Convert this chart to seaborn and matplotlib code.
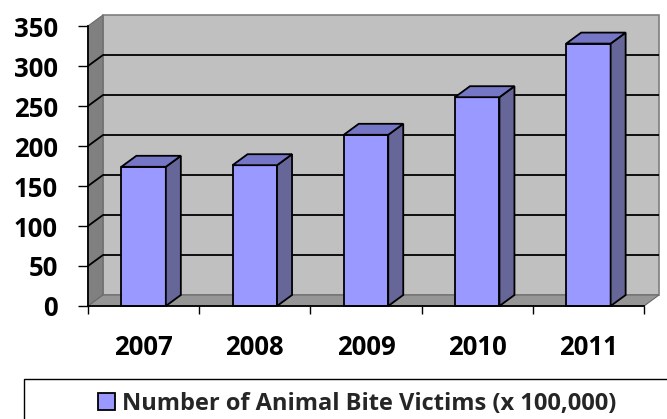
import matplotlib
matplotlib.use("Agg")
import matplotlib.pyplot as plt
from matplotlib.patches import Polygon, Rectangle, Patch
import seaborn as sns

# Data
years = ["2007", "2008", "2009", "2010", "2011"]
victims = [174, 176, 214, 261, 328]
y_ticks = [0, 50, 100, 150, 200, 250, 300, 350]
legend_label = "Number of Animal Bite Victims (x 100,000)"

# Colours of the pseudo-3D box and columns
FRONT = "#9999FF"
SIDE = "#666699"
TOP = "#7676C6"
BACK_WALL = "#C0C0C0"
SIDE_WALL = "#808080"
FLOOR = "#969696"

sns.set_theme(style="white")
plt.rcParams["font.family"] = ["Open Sans", "DejaVu Sans"]
plt.rcParams["font.weight"] = "bold"

W, H = 667, 419
fig = plt.figure(figsize=(W / 100, H / 100), dpi=100)
ax = fig.add_axes([88 / W, 1 - 306 / H, (644 - 88) / W, (306 - 26) / H])

XMIN, XMAX = -0.5, 4.5
YMIN, YMAX = 0, 350
ax.set_xlim(XMIN, XMAX)
ax.set_ylim(YMIN, YMAX)

# depth of the box, expressed in data units (about 15 px right, 11 px up)
DX = 15 / ((644 - 88) / 5)
DY = 11 / ((306 - 26) / 350)

# back wall, side wall and floor
ax.add_patch(Rectangle((XMIN + DX, YMIN + DY), XMAX - XMIN, YMAX - YMIN,
                       facecolor=BACK_WALL, edgecolor="#7f7f7f", lw=1.2,
                       zorder=0.1, clip_on=False))
ax.add_patch(Polygon([(XMIN, YMIN), (XMIN, YMAX), (XMIN + DX, YMAX + DY),
                      (XMIN + DX, YMIN + DY)], closed=True,
                     facecolor=SIDE_WALL, edgecolor="#6a6a6a", lw=0.8,
                     zorder=0.2, clip_on=False))
ax.add_patch(Polygon([(XMIN, YMIN), (XMAX, YMIN), (XMAX + DX, YMIN + DY),
                      (XMIN + DX, YMIN + DY)], closed=True,
                     facecolor=FLOOR, edgecolor="#6a6a6a", lw=0.8,
                     zorder=0.2, clip_on=False))

# gridlines on the back wall and the side wall
for t in y_ticks[1:-1]:
    ax.plot([XMIN + DX, XMAX + DX], [t + DY, t + DY], color="black", lw=1.3,
            zorder=0.3, clip_on=False, solid_capstyle="butt")
    ax.plot([XMIN, XMIN + DX], [t, t + DY], color="black", lw=1.3,
            zorder=0.3, clip_on=False)

# front faces of the columns
BAR_W = 0.4
sns.barplot(x=years, y=victims, width=BAR_W, color=FRONT, saturation=1,
            edgecolor="black", linewidth=1.3, ax=ax, zorder=2)
for p in ax.patches:
    p.set_clip_on(False)

# side and top faces of the columns
for i, v in enumerate(victims):
    r = i + BAR_W / 2
    l = i - BAR_W / 2
    ax.add_patch(Polygon([(r, 0), (r, v), (r + DX, v + DY), (r + DX, DY)],
                         closed=True, facecolor=SIDE, edgecolor="black",
                         lw=1.3, zorder=2.5, clip_on=False))
    ax.add_patch(Polygon([(l, v), (r, v), (r + DX, v + DY), (l + DX, v + DY)],
                         closed=True, facecolor=TOP, edgecolor="black",
                         lw=1.3, zorder=2.5, clip_on=False))

# axes
for s in ["top", "right"]:
    ax.spines[s].set_visible(False)
for s in ["left", "bottom"]:
    ax.spines[s].set_visible(True)
    ax.spines[s].set_color("black")
    ax.spines[s].set_linewidth(1.3)
    ax.spines[s].set_zorder(3)

ax.set_yticks(y_ticks)
ax.set_yticklabels([str(t) for t in y_ticks])
ax.tick_params(axis="y", direction="out", length=7.2, width=1.0, pad=14.4,
               labelsize=18.5, colors="black", left=True)
ax.set_xticks(range(len(years)))
ax.set_xticklabels(years)
ax.set_xticks([x + 0.5 for x in range(-1, len(years))], minor=True)
ax.tick_params(axis="x", which="major", length=0, pad=20.5, labelsize=18.5,
               colors="black")
ax.tick_params(axis="x", which="minor", direction="out", length=6, width=1.0,
               color="black", bottom=True)
for lab in ax.get_xticklabels() + ax.get_yticklabels():
    lab.set_fontweight("bold")
ax.set_xlabel("")
ax.set_ylabel("")
ax.patch.set_visible(False)

# legend box running off the lower right of the figure
fig.patches.append(Rectangle((24 / W, -0.1), 1.0, 1 - 379 / H + 0.1,
                             transform=fig.transFigure, facecolor="white",
                             edgecolor="black", lw=1.0))
fig.legend(handles=[Patch(facecolor=FRONT, edgecolor="black", lw=1.3)],
           labels=[legend_label], loc="center",
           bbox_to_anchor=(357 / W, 1 - 404 / H), frameon=False,
           prop={"weight": "bold", "size": 17}, handlelength=0.7,
           handleheight=0.7, handletextpad=0.3, borderpad=0)

fig.savefig("out.png", dpi=100)
